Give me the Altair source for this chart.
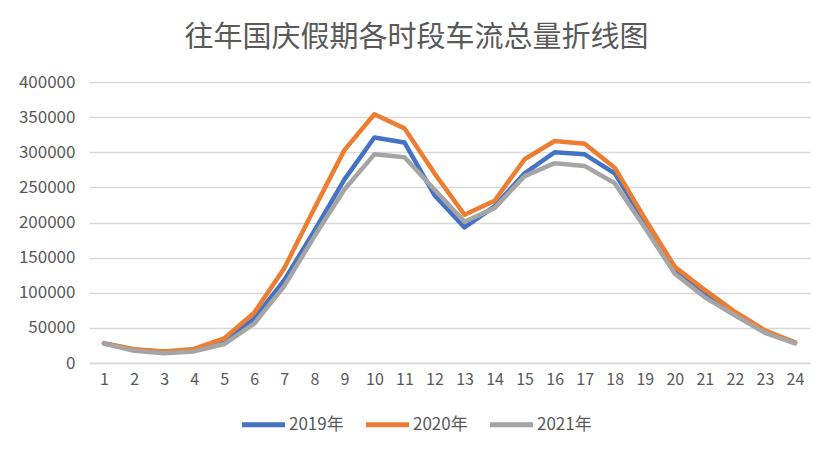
import altair as alt
import pandas as pd

hours = list(range(1, 25))
y2019 = [28000, 19000, 16000, 18000, 30000, 63000, 118000, 188000, 261000, 321000, 314000, 239000,
         193000, 223000, 270000, 300000, 297000, 270000, 201000, 132000, 99000, 70500, 44500, 29000]
y2020 = [28000, 19500, 16500, 20000, 35000, 71500, 135000, 220000, 303000, 354000, 334000, 270000,
         211000, 231000, 290000, 316000, 312000, 278000, 206000, 137000, 104000, 73000, 46500, 29500]
y2021 = [27500, 17500, 14000, 16500, 27000, 56000, 109500, 180000, 247000, 297000, 293000, 247000,
         201000, 220500, 266000, 284500, 280500, 256000, 193000, 127000, 93500, 68000, 43000, 28000]
series = ["2019年", "2020年", "2021年"]
colors = ["#4472C4", "#ED7D31", "#A5A5A5"]

rows = []
for name, vals in zip(series, [y2019, y2020, y2021]):
    for h, v in zip(hours, vals):
        rows.append({"时段": h, "车流量": v, "年份": name, "order": series.index(name)})
df = pd.DataFrame(rows)

FONT = "Noto Sans CJK SC"
TXT = "#595959"

chart = alt.Chart(df).mark_line(strokeWidth=4.5, strokeJoin="round", strokeCap="round").encode(
    x=alt.X("时段:O", title=None, sort=hours,
            scale=alt.Scale(padding=0.5),
            axis=alt.Axis(labelAngle=0, ticks=False, domainColor="#D9D9D9", domainWidth=1.5,
                          labelFontSize=16, labelColor=TXT, labelFont=FONT, labelPadding=8)),
    y=alt.Y("车流量:Q", title=None,
            scale=alt.Scale(domain=[0, 400000], nice=False),
            axis=alt.Axis(values=list(range(0, 400001, 50000)), ticks=False, domain=False,
                          gridColor="#D9D9D9", gridWidth=1.5, labelFontSize=17, labelColor=TXT,
                          labelFont=FONT, labelPadding=14, format="d")),
    color=alt.Color("年份:N", sort=series,
                    scale=alt.Scale(domain=series, range=colors),
                    legend=alt.Legend(title=None, orient="none", direction="horizontal",
                                      legendX=150, legendY=318, symbolType="stroke",
                                      symbolSize=1850, symbolStrokeWidth=5,
                                      labelFontSize=17, labelColor=TXT, labelFont=FONT,
                                      labelOffset=1, columnPadding=11)),
    order=alt.Order("order:Q"),
).properties(
    width=721, height=281,
    title=alt.TitleParams("往年国庆假期各时段车流总量折线图", fontSize=29, font=FONT,
                          color=TXT, fontWeight="normal", anchor="middle", offset=20, dx=-33),
    autosize=alt.AutoSizeParams(type="none"),
    padding={"left": 81, "top": 74, "right": 10, "bottom": 80},
).configure_view(stroke=None)

chart.save("out.html", embed_options={"renderer": "svg", "actions": False})
